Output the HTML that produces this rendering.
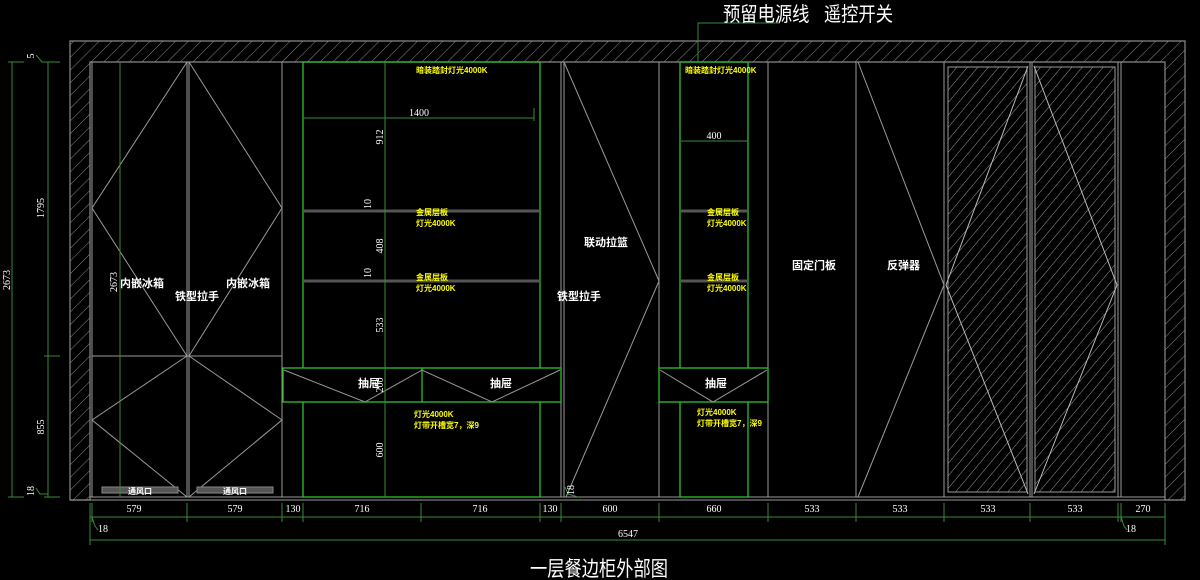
<!DOCTYPE html>
<html><head><meta charset="utf-8"><style>
html,body{margin:0;padding:0;background:#000;width:1200px;height:580px;overflow:hidden}
svg{display:block}
.w{font-family:"Liberation Sans","Noto Sans CJK SC",sans-serif;fill:#fff}
.y{font-family:"Liberation Sans","Noto Sans CJK SC",sans-serif;fill:#ffff00;font-size:8px;font-weight:bold}
.d{font-family:"Liberation Serif","Noto Serif CJK SC",serif;fill:#fff;font-size:10px}
</style></head><body>
<svg width="1200" height="580" viewBox="0 0 1200 580" xmlns="http://www.w3.org/2000/svg">
<defs>
<pattern id="h" width="9" height="9" patternUnits="userSpaceOnUse" patternTransform="rotate(45)">
<line x1="0" y1="0" x2="0" y2="9" stroke="#8a8a8a" stroke-width="1"/></pattern>
<pattern id="h2" width="8" height="8" patternUnits="userSpaceOnUse" patternTransform="rotate(40)">
<line x1="0" y1="0" x2="0" y2="8" stroke="#9a9a9a" stroke-width="1"/></pattern>
</defs>
<!-- wall -->
<path d="M70 41 H1185 V500 H1165 V62 H90 V500 H70 Z" fill="url(#h)" stroke="#8a8a8a" stroke-width="1.2"/>
<g stroke="#9a9a9a" fill="none" stroke-width="1">
<line x1="70" y1="500" x2="1185" y2="500"/>
<line x1="90" y1="497" x2="1165" y2="497"/>
<line x1="92" y1="62" x2="92" y2="497"/>
<line x1="187" y1="62" x2="187" y2="497"/>
<line x1="189" y1="62" x2="189" y2="497"/>
<line x1="282" y1="62" x2="282" y2="497"/>
<line x1="92" y1="356" x2="282" y2="356"/>
<polyline points="187,62 92,208 187,356"/>
<polyline points="189,62 282,208 189,356"/>
<polyline points="187,356 92,420 187,497"/>
<polyline points="189,356 282,420 189,497"/>
<line x1="561" y1="62" x2="561" y2="497"/>
<line x1="564" y1="62" x2="564" y2="497"/>
<line x1="659" y1="62" x2="659" y2="497"/>
<polyline points="564,62 659,281 566,497"/>
<line x1="768" y1="62" x2="768" y2="497"/>
<line x1="856" y1="62" x2="856" y2="497"/>
<polyline points="858,62 944,285 858,497"/>
<line x1="944" y1="62" x2="944" y2="497"/>
<line x1="1030" y1="62" x2="1030" y2="497"/>
<line x1="1032" y1="62" x2="1032" y2="497"/>
<line x1="1118" y1="62" x2="1118" y2="497"/>
<line x1="1121" y1="62" x2="1121" y2="497"/>
</g>
<rect x="948" y="67" width="79" height="425" fill="url(#h2)" stroke="#9a9a9a"/>
<rect x="1035" y="67" width="80" height="425" fill="url(#h2)" stroke="#9a9a9a"/>
<g stroke="#bbb" fill="none"><polyline points="1028,66 946,285 1028,494"/><polyline points="1034,66 1117,285 1034,494"/></g>
<rect x="102" y="487" width="76" height="6" fill="#555" stroke="#888"/>
<rect x="197" y="487" width="76" height="6" fill="#555" stroke="#888"/>
<text class="w" x="140" y="494" font-size="8" text-anchor="middle" font-weight="bold">通风口</text>
<text class="w" x="235" y="494" font-size="8" text-anchor="middle" font-weight="bold">通风口</text>
<g stroke="#2fbf2f" fill="none" stroke-width="1.3">
<rect x="303" y="62" width="237" height="435"/>
<rect x="680" y="62" width="68" height="435"/>
<rect x="283" y="368" width="278" height="34" fill="#000"/>
<line x1="422" y1="368" x2="422" y2="402"/>
<rect x="659" y="368" width="109" height="34" fill="#000"/>
</g>
<g stroke="#999" fill="none">
<polyline points="284,370 365,402 422,370 492,402 560,370"/>
<polyline points="660,370 713,402 767,370"/>
</g>
<g stroke="#555" stroke-width="3">
<line x1="304" y1="211" x2="539" y2="211"/><line x1="304" y1="281" x2="539" y2="281"/>
<line x1="681" y1="211" x2="747" y2="211"/><line x1="681" y1="281" x2="747" y2="281"/>
</g>
<g stroke="#3a8a3a" fill="none" stroke-width="1">
<line x1="12" y1="62" x2="12" y2="497"/><line x1="8" y1="62" x2="24" y2="62"/><line x1="8" y1="497" x2="24" y2="497"/>
<line x1="48" y1="62" x2="48" y2="497"/><line x1="44" y1="62" x2="60" y2="62"/><line x1="44" y1="356" x2="60" y2="356"/><line x1="44" y1="497" x2="60" y2="497"/>
<polyline points="36,55 42,62 48,62"/>
<polyline points="36,488 40,494 48,494"/>
<line x1="120" y1="62" x2="120" y2="497"/>
<line x1="385" y1="62" x2="385" y2="497"/>
<line x1="304" y1="118" x2="534" y2="118"/><line x1="534" y1="108" x2="534" y2="121"/>
<line x1="681" y1="141" x2="747" y2="141"/>
<polyline points="698,62 698,23 780,23"/>
<line x1="90" y1="517" x2="1165" y2="517"/>
<line x1="90" y1="540" x2="1165" y2="540"/>
<g>
<line x1="90" y1="503" x2="90" y2="545"/><line x1="92" y1="503" x2="92" y2="522"/>
<line x1="187" y1="503" x2="187" y2="522"/><line x1="282" y1="503" x2="282" y2="522"/>
<line x1="303" y1="503" x2="303" y2="522"/><line x1="421" y1="503" x2="421" y2="522"/>
<line x1="540" y1="503" x2="540" y2="522"/><line x1="561" y1="503" x2="561" y2="522"/>
<line x1="659" y1="503" x2="659" y2="522"/><line x1="768" y1="503" x2="768" y2="522"/>
<line x1="856" y1="503" x2="856" y2="522"/><line x1="944" y1="503" x2="944" y2="522"/>
<line x1="1030" y1="503" x2="1030" y2="522"/><line x1="1118" y1="503" x2="1118" y2="522"/>
<line x1="1121" y1="503" x2="1121" y2="522"/><line x1="1165" y1="503" x2="1165" y2="545"/>
</g>
<polyline points="92,517 95,526 98,530"/>
<polyline points="1121,517 1124,526 1127,530"/>
<polyline points="565,487 568,494 578,497"/>
</g>
<g class="d" text-anchor="middle">
<text x="134" y="512">579</text><text x="235" y="512">579</text><text x="293" y="512">130</text>
<text x="362" y="512">716</text><text x="480" y="512">716</text><text x="550" y="512">130</text>
<text x="610" y="512">600</text><text x="714" y="512">660</text><text x="812" y="512">533</text>
<text x="900" y="512">533</text><text x="988" y="512">533</text><text x="1075" y="512">533</text>
<text x="1143" y="512">270</text><text x="628" y="537">6547</text>
<text x="103" y="532">18</text><text x="1131" y="532">18</text>
<text x="419" y="116">1400</text><text x="714" y="139">400</text>
</g>
<g class="d" text-anchor="middle">
<text transform="translate(10,280) rotate(-90)">2673</text>
<text transform="translate(44,208) rotate(-90)">1795</text>
<text transform="translate(44,427) rotate(-90)">855</text>
<text transform="translate(34,491) rotate(-90)">18</text>
<text transform="translate(34,56) rotate(-90)">5</text>
<text transform="translate(117,282) rotate(-90)">2673</text>
<text transform="translate(383,137) rotate(-90)">912</text>
<text transform="translate(371,204) rotate(-90)">10</text>
<text transform="translate(383,246) rotate(-90)">408</text>
<text transform="translate(371,273) rotate(-90)">10</text>
<text transform="translate(383,325) rotate(-90)">533</text>
<text transform="translate(383,385) rotate(-90)">200</text>
<text transform="translate(383,450) rotate(-90)">600</text>
<text transform="translate(574,490) rotate(-90)">18</text>
</g>
<g class="w" font-size="11" font-weight="bold">
<text x="120" y="287">内嵌冰箱</text><text x="226" y="287">内嵌冰箱</text>
<text x="175" y="300">铁型拉手</text><text x="557" y="300">铁型拉手</text>
<text x="584" y="246">联动拉篮</text><text x="792" y="269">固定门板</text><text x="887" y="269">反弹器</text>
<text x="358" y="387">抽屉</text><text x="490" y="387">抽屉</text><text x="705" y="387">抽屉</text>
</g>
<text class="y" x="416" y="73">暗装踏封灯光4000K</text>
<text class="y" x="685" y="73">暗装踏封灯光4000K</text>
<text class="y" x="416" y="215">金属层板</text><text class="y" x="416" y="226">灯光4000K</text>
<text class="y" x="416" y="280">金属层板</text><text class="y" x="416" y="291">灯光4000K</text>
<text class="y" x="707" y="215">金属层板</text><text class="y" x="707" y="226">灯光4000K</text>
<text class="y" x="707" y="280">金属层板</text><text class="y" x="707" y="291">灯光4000K</text>
<text class="y" x="414" y="417">灯光4000K</text><text class="y" x="414" y="428">灯带开槽宽7，深9</text>
<text class="y" x="697" y="415">灯光4000K</text><text class="y" x="697" y="426">灯带开槽宽7，深9</text>
<text class="w" x="723" y="21" font-size="20" textLength="170" lengthAdjust="spacingAndGlyphs">预留电源线&#160;&#160;&#160;遥控开关</text>
<text class="w" x="530" y="576" font-size="21" textLength="138" lengthAdjust="spacingAndGlyphs">一层餐边柜外部图</text>
</svg>
</body></html>
